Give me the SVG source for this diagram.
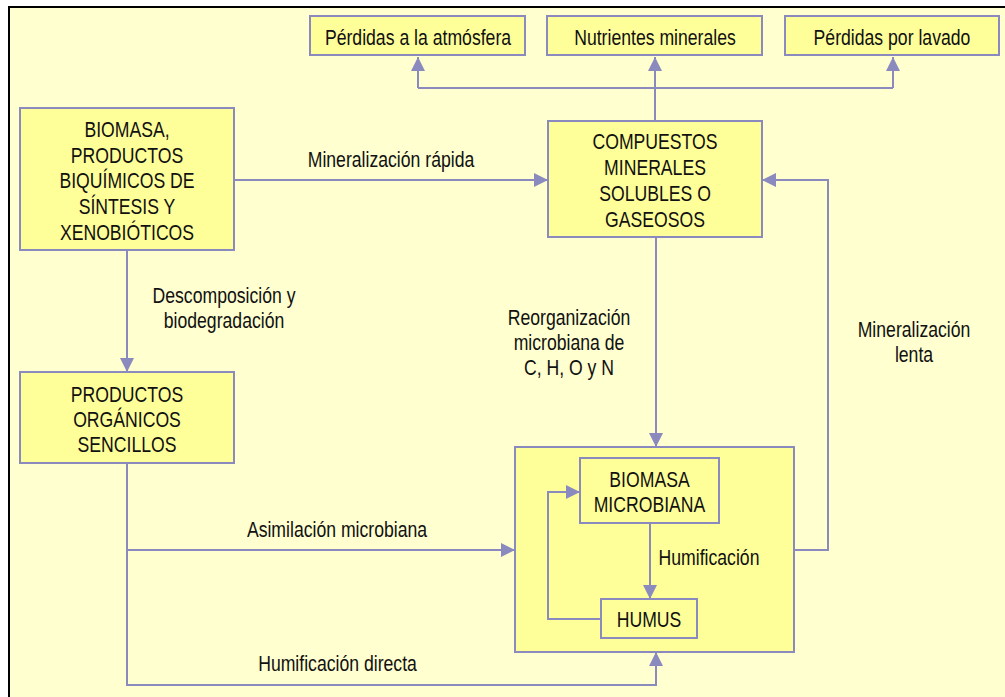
<svg xmlns="http://www.w3.org/2000/svg" width="1005" height="697" viewBox="0 0 1005 697">
<defs>
<style>
.box{fill:#FFFF99;stroke:#8A8ABF;stroke-width:2}
.ln{fill:none;stroke:#8A8ABF;stroke-width:2}
.arr{marker-end:url(#ah)}
.t{font-family:"Liberation Sans",Arial,sans-serif;font-size:21.5px;fill:#111;text-anchor:middle}
</style>
<marker id="ah" viewBox="0 0 14 14" refX="14" refY="7" markerWidth="14" markerHeight="14" markerUnits="userSpaceOnUse" orient="auto">
<path d="M0,0 L14,7 L0,14 z" fill="#8A8ABF"/>
</marker>
</defs>
<rect x="0" y="0" width="1005" height="697" fill="#ffffff"/>
<rect x="9" y="7" width="1010" height="710" fill="#FFFFD0" stroke="#000" stroke-width="2"/>

<g id="n-atmosfera">
<rect class="box" x="310" y="16" width="215" height="39"/>
<text class="t" transform="translate(418,45) scale(0.82 1)">Pérdidas a la atmósfera</text>
</g>
<g id="n-nutrientes">
<rect class="box" x="547" y="16" width="215" height="39"/>
<text class="t" transform="translate(655,45) scale(0.82 1)">Nutrientes minerales</text>
</g>
<g id="n-lavado">
<rect class="box" x="785" y="16" width="214" height="39"/>
<text class="t" transform="translate(892,45) scale(0.82 1)">Pérdidas por lavado</text>
</g>
<g id="n-biomasa">
<rect class="box" x="20" y="108" width="214" height="142"/>
<text class="t" transform="translate(127,137) scale(0.82 1)"><tspan x="0" y="0">BIOMASA,</tspan><tspan x="0" y="25.7">PRODUCTOS</tspan><tspan x="0" y="51.4">BIQUÍMICOS DE</tspan><tspan x="0" y="77.1">SÍNTESIS Y</tspan><tspan x="0" y="102.8">XENOBIÓTICOS</tspan></text>
</g>
<g id="n-compuestos">
<rect class="box" x="548" y="121" width="214" height="116"/>
<text class="t" transform="translate(655,149) scale(0.82 1)"><tspan x="0" y="0">COMPUESTOS</tspan><tspan x="0" y="26">MINERALES</tspan><tspan x="0" y="52">SOLUBLES O</tspan><tspan x="0" y="78">GASEOSOS</tspan></text>
</g>
<g id="n-productos">
<rect class="box" x="20" y="372" width="214" height="91"/>
<text class="t" transform="translate(127,402) scale(0.82 1)"><tspan x="0" y="0">PRODUCTOS</tspan><tspan x="0" y="25">ORGÁNICOS</tspan><tspan x="0" y="50">SENCILLOS</tspan></text>
</g>
<g id="n-grupo">
<rect class="box" x="515" y="447" width="279" height="205"/>
</g>
<g id="n-biomasa-microbiana">
<rect class="box" x="580" y="458" width="139" height="65"/>
<text class="t" transform="translate(649.5,487) scale(0.82 1)"><tspan x="0" y="0">BIOMASA</tspan><tspan x="0" y="25">MICROBIANA</tspan></text>
</g>
<g id="n-humus">
<rect class="box" x="601" y="599" width="96" height="39"/>
<text class="t" transform="translate(649,627) scale(0.82 1)">HUMUS</text>
</g>

<g id="connectors">
<path class="ln arr" d="M234,180 H548"/>
<path class="ln arr" d="M655,121 V57"/>
<path class="ln" d="M418,88 H893"/>
<path class="ln arr" d="M418,88 V57"/>
<path class="ln arr" d="M893,88 V57"/>
<path class="ln arr" d="M127,250 V372"/>
<path class="ln arr" d="M656,237 V447"/>
<path class="ln arr" d="M127,463 V685 H656 V652"/>
<path class="ln arr" d="M127,550 H515"/>
<path class="ln arr" d="M794,550 H828 V180 H762"/>
<path class="ln arr" d="M650,523 V599"/>
<path class="ln arr" d="M601,619 H548 V492 H580"/>
</g>

<g id="labels">
<text class="t" transform="translate(391,167) scale(0.82 1)">Mineralización rápida</text>
<text class="t" transform="translate(224,303) scale(0.82 1)"><tspan x="0" y="0">Descomposición y</tspan><tspan x="0" y="25">biodegradación</tspan></text>
<text class="t" transform="translate(569,325) scale(0.82 1)"><tspan x="0" y="0">Reorganización</tspan><tspan x="0" y="25.5">microbiana de</tspan><tspan x="0" y="50">C, H, O y N</tspan></text>
<text class="t" transform="translate(914,337) scale(0.82 1)"><tspan x="0" y="0">Mineralización</tspan><tspan x="0" y="25">lenta</tspan></text>
<text class="t" transform="translate(709,565) scale(0.82 1)">Humificación</text>
<text class="t" transform="translate(337,537) scale(0.82 1)">Asimilación microbiana</text>
<text class="t" transform="translate(337.5,671) scale(0.82 1)">Humificación directa</text>
</g>
</svg>
